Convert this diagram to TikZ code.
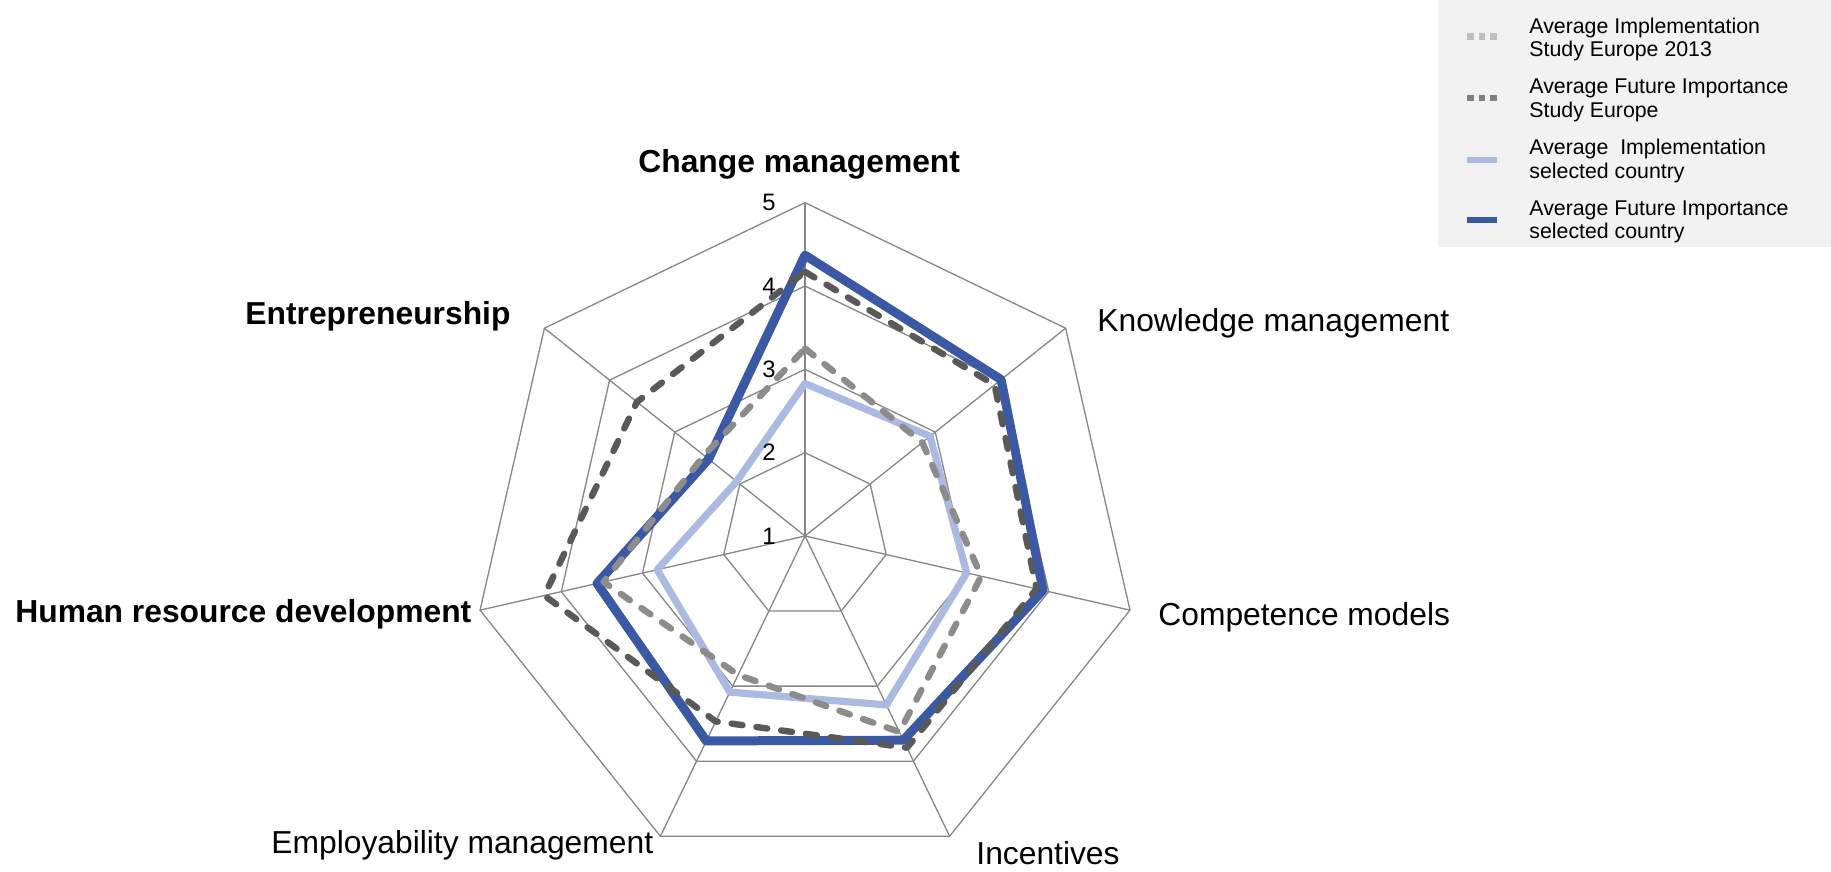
\documentclass[tikz,border=0pt]{standalone}
\usepackage{fontspec}
\setmainfont{Liberation Sans}
\usetikzlibrary{positioning}

\definecolor{gridgray}{RGB}{134,134,134}
\definecolor{futblue}{RGB}{59,88,164}
\definecolor{implblue}{RGB}{170,186,224}
\definecolor{futgray}{RGB}{89,89,89}
\definecolor{implgray}{RGB}{140,140,140}
\definecolor{keyfutgray}{RGB}{128,128,128}
\definecolor{keyimplgray}{RGB}{191,191,191}
\definecolor{keybg}{RGB}{242,242,242}

\newcommand{\catfont}{\fontsize{15.9}{19}\selectfont}
\newcommand{\numfont}{\fontsize{11.9}{14}\selectfont}
\newcommand{\keyfont}{\fontsize{10.66}{11.75}\selectfont}

\begin{document}
\begin{tikzpicture}[x=0.5pt, y=0.5pt,
		gridline/.style={draw=gridgray, line width=0.65pt},
		implsel/.style={draw=implblue, line width=3.6pt, line join=round},
		futsel/.style={draw=futblue, line width=4.5pt, line join=round},
		impleu/.style={draw=implgray, line width=3.2pt, line cap=round, line join=round, dash pattern=on 5.5pt off 7pt},
		futeu/.style={draw=futgray, line width=3.2pt, line cap=round, line join=round, dash pattern=on 5.5pt off 7pt},
		category/.style={anchor=base west, inner sep=0pt, font=\catfont},
		boldcat/.style={category, font=\catfont\bfseries},
		level/.style={anchor=east, inner sep=0pt, font=\numfont},
		keytext/.style={anchor=west, inner sep=0pt, align=left, font=\keyfont},
		keyline/.style={line width=3.2pt}]
	\useasboundingbox (0,0) rectangle (1831,872);
	\begin{scope}[shift={(805,336)}]
		\coordinate (o) at (0,0);
		\foreach \i in {0,...,6}
			\coordinate (ax\i) at ({90-\i*360/7}:333.33);
		\foreach \k in {1,...,4}
			\draw[gridline] (90:{\k*83.33}) \foreach \i in {1,...,6}{-- ({90-\i*360/7}:{\k*83.33})} -- cycle;
		\foreach \i in {0,...,6}
			\draw[gridline] (o) -- (ax\i);
		\foreach \s/\vals in {is/{2.83,2.92,2.99,3.25,3.08,2.82,2.05},
				fs/{4.37,4.01,3.93,3.72,3.73,3.56,2.48},
				ie/{3.25,2.80,3.17,3.61,2.85,3.48,2.55},
				fe/{4.17,3.91,3.85,3.82,3.47,4.21,3.58}}
			\foreach \v [count=\i from 0] in \vals
				\coordinate (\s\i) at ({90-\i*360/7}:{(\v-1)*83.33});
	\end{scope}
	\draw[implsel] (is0) \foreach \i in {1,...,6}{-- (is\i)} -- cycle;
	\draw[futsel] (fs0) \foreach \i in {1,...,6}{-- (fs\i)} -- cycle;
	\draw[impleu] (ie0) \foreach \i in {1,...,6}{-- (ie\i)} -- cycle;
	\draw[futeu] (fe0) \foreach \i in {1,...,6}{-- (fe\i)} -- cycle;
	\foreach \k in {1,...,5}
		\node[level] (lv\k) at (776,{336+(\k-1)*83.33}) {\k};
	\node[boldcat] (change) at (638,699.3) {Change management};
	\node[category] (knowledge) at (1097,540.3) {Knowledge management};
	\node[category] (competence) at (1158,246) {Competence models};
	\node[category] (incentives) at (976,7) {Incentives};
	\node[category] (employability) at (271,18.7) {Employability management};
	\node[boldcat] (hrd) at (15,249.3) {Human resource development};
	\node[boldcat] (entrepreneurship) at (245,547) {Entrepreneurship};
	\fill[keybg] (1438,625) rectangle (1831,872);
	\coordinate (k1) at (1467,835.3);
	\coordinate (k2) at (1467,773.7);
	\coordinate (k3) at (1467,712);
	\coordinate (k4) at (1467,652);
	\draw[keyline, draw=keyimplgray, dash pattern=on 3.33pt off 2.5pt] (k1) -- ++(30,0);
	\draw[keyline, draw=keyfutgray, dash pattern=on 3.33pt off 2.5pt] (k2) -- ++(30,0);
	\draw[keyline, draw=implblue] (k3) -- ++(30,0);
	\draw[keyline, draw=futblue] (k4) -- ++(30,0);
	\node[keytext] (t1) at (1529,832.5) {Average Implementation\\Study Europe 2013};
	\node[keytext] (t2) at (1529,771.8) {Average Future Importance\\Study Europe};
	\node[keytext] (t3) at (1529,711) {Average\ \ Implementation\\selected country};
	\node[keytext] (t4) at (1529,650) {Average Future Importance\\selected country};
\end{tikzpicture}
\end{document}
